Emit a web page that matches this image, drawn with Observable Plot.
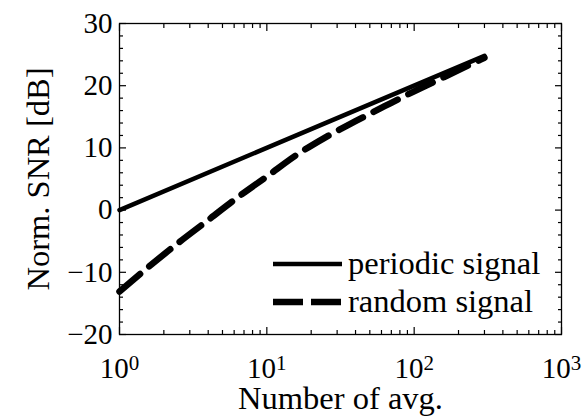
<!DOCTYPE html>
<html><head><meta charset="utf-8">
<script src="https://cdn.jsdelivr.net/npm/d3@7"></script>
<script src="https://cdn.jsdelivr.net/npm/@observablehq/plot@0.6"></script>
<style>
body{margin:0;background:#fff;}
#wrap{position:relative;width:587px;height:418px;}
#legend{position:absolute;left:0;top:0;}
</style></head><body><div id="wrap"></div>
<script>
// ---- data ----
const periodicN  = [1, 300];
const periodicDB = [0, 24.8];
const randomN  = [1, 1.6, 2.5, 4, 6.3, 10, 16, 25, 40, 63, 100, 160, 250, 300];
const randomDB = [-13.1, -9.0, -5.3, -1.6, 2.0, 5.4, 8.9, 11.7, 14.3, 16.7, 19.1, 21.4, 23.6, 24.5];
const xMajor = [1, 10, 100, 1000];
const xExp   = ["0", "1", "2", "3"];
const xMinor = [2,3,4,5,6,7,8,9,20,30,40,50,60,70,80,90,200,300,400,500,600,700,800,900];
const yMajor = [-20, -10, 0, 10, 20, 30];
const yMinor = [-18,-16,-14,-12,-8,-6,-4,-2,2,4,6,8,12,14,16,18,22,24,26,28];
const seriesNames = ["periodic signal", "random signal"];
const xLabel = "Number of avg.";
const yLabel = "Norm. SNR [dB]";

const periodic = periodicN.map((n, i) => ({n, db: periodicDB[i]}));
const random = randomN.map((n, i) => ({n, db: randomDB[i]}));

const FONT = "'Liberation Serif', 'Times New Roman', serif";
const FS_TICK = 29;
const FS = 32.5;

const tickOnly = (vals, anchor, size) =>
  (anchor === "bottom" || anchor === "top")
    ? Plot.axisX(vals, {anchor, tickSize: size, fill: "none", label: null, stroke: "black", strokeWidth: 1.2})
    : Plot.axisY(vals, {anchor, tickSize: size, fill: "none", label: null, stroke: "black", strokeWidth: 1.2});

const chart = Plot.plot({
  width: 587, height: 418,
  marginLeft: 119, marginRight: 26, marginTop: 23, marginBottom: 84,
  style: {fontFamily: FONT, fontSize: FS_TICK + "px", color: "black", background: "white"},
  x: {type: "log", domain: [1, 1000]},
  y: {domain: [-20, 30]},
  marks: [
    Plot.line(periodic, {x: "n", y: "db", stroke: "black", strokeWidth: 4.5}),
    Plot.line(random, {x: "n", y: "db", stroke: "black", strokeWidth: 6.5, strokeDasharray: "27,12", curve: "monotone-x"}),
    Plot.frame({stroke: "black", strokeWidth: 1.3}),
    tickOnly(xMajor, "bottom", -7), tickOnly(xMinor, "bottom", -4),
    tickOnly(xMajor, "top", -7), tickOnly(xMinor, "top", -4),
    tickOnly(yMajor, "left", -7), tickOnly(yMinor, "left", -4),
    tickOnly(yMajor, "right", -7), tickOnly(yMinor, "right", -4),
    // tick labels
    Plot.axisX(xMajor, {anchor: "bottom", tickSize: 0, stroke: "none", tickPadding: 23, tickFormat: d => "10", label: null, fontSize: FS_TICK}),
    Plot.axisY(yMajor, {anchor: "left", tickSize: 0, stroke: "none", tickPadding: 7, tickFormat: d => d < 0 ? "\u2212" + Math.abs(d) : String(d), label: null, fontSize: FS_TICK}),
    Plot.text([xLabel], {frameAnchor: "bottom", text: d => d, dy: 74, fontSize: FS}),
    Plot.text([yLabel], {frameAnchor: "left", text: d => d, rotate: -90, textAnchor: "middle", dx: -81, fontSize: FS})
  ]
});

// superscript exponents on the x tick labels
const xl = chart.querySelectorAll('g[aria-label="x-axis tick label"] text');
xl.forEach((t, i) => {
  t.textContent = "10";
  const ts = document.createElementNS("http://www.w3.org/2000/svg", "tspan");
  ts.setAttribute("dy", "-0.4em");
  ts.setAttribute("font-size", "21px");
  ts.textContent = xExp[i];
  t.appendChild(ts);
});

const wrap = document.getElementById("wrap");
wrap.appendChild(chart);

// legend (inside the axes, bottom right)
const NS = "http://www.w3.org/2000/svg";
const lg = document.createElementNS(NS, "svg");
lg.setAttribute("id", "legend");
lg.setAttribute("width", 587); lg.setAttribute("height", 418);
const rows = [
  {name: seriesNames[0], y: 264, w: 4.5, dash: null},
  {name: seriesNames[1], y: 302, w: 6.5, dash: "30,8"}
];
rows.forEach(r => {
  const l = document.createElementNS(NS, "line");
  l.setAttribute("x1", 273); l.setAttribute("x2", 342);
  l.setAttribute("y1", r.y); l.setAttribute("y2", r.y);
  l.setAttribute("stroke", "black"); l.setAttribute("stroke-width", r.w);
  if (r.dash) l.setAttribute("stroke-dasharray", r.dash);
  lg.appendChild(l);
  const t = document.createElementNS(NS, "text");
  t.setAttribute("x", 348); t.setAttribute("y", r.y + 10);
  t.setAttribute("font-family", FONT); t.setAttribute("font-size", FS);
  t.textContent = r.name;
  lg.appendChild(t);
});
wrap.appendChild(lg);
</script></body></html>
